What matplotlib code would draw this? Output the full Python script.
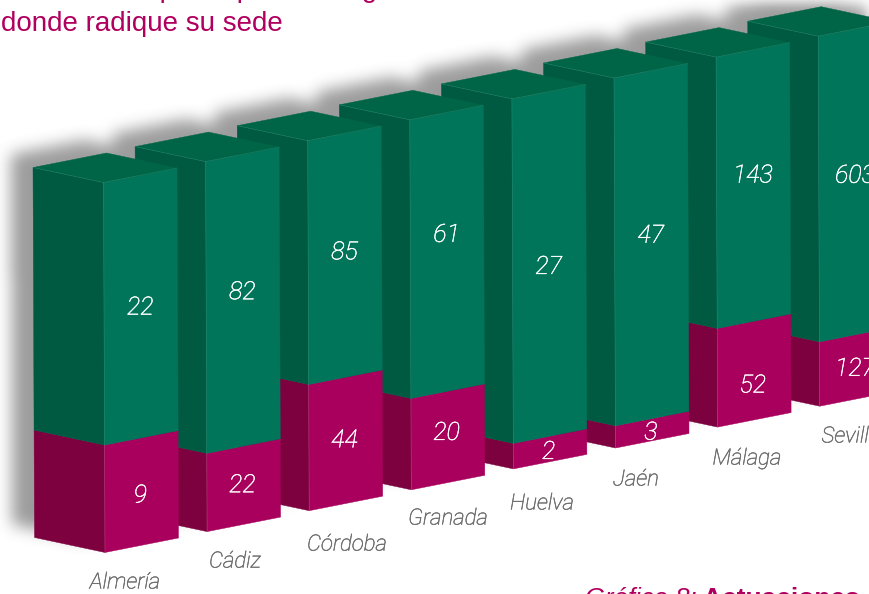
import numpy as np
import matplotlib
matplotlib.use('Agg')
import matplotlib.pyplot as plt
import matplotlib.patheffects as pe
from matplotlib.path import Path

# Provinces and counts
provinces = ['Almería', 'Cádiz', 'Córdoba', 'Granada', 'Huelva', 'Jaén', 'Málaga', 'Sevilla']
green_values = [22, 82, 85, 61, 27, 47, 143, 603]
magenta_values = [9, 22, 44, 20, 2, 3, 52, 127]

# Hand placement of the labels (pixels)
green_nudge = [1, -8, -3, -17, 3, -9, -10, -6]
magenta_nudge = [4, 0, 0, -4, 3, 3, 15, 2]
name_x = [125, 235, 347, 448, 542, 636, 747, 851]
name_y = [583, 562, 545, 519, 504, 480, 459, 437]

GREEN = '#00755a'
GREEN_SIDE = '#005a42'
GREEN_TOP = '#006546'
MAGENTA = '#a8005c'
MAGENTA_SIDE = '#7d003f'
TITLE_COLOR = '#b0005f'
NAME_COLOR = '#6e6e6e'

BAR_H = 370


def project(i, a, b, h):
    # a = depth to the left, b = depth to the right, h = share of the total height
    x = 105 + i * 102.1 - a * 70.5 + b * 73.5 - h * 1.5
    y = 552.5 - i * 20.9 - a * 15 - b * 14.5 - h * BAR_H
    return x, y


def face(ax, i, corners, color):
    pts = [project(i, *c) for c in corners]
    ax.fill([p[0] for p in pts], [p[1] for p in pts], color=color, lw=0.3, ec=color)


def blur(img, size, passes=3):
    kernel = np.ones(size) / size
    for _ in range(passes):
        img = np.apply_along_axis(lambda r: np.convolve(r, kernel, mode='same'), 0, img)
        img = np.apply_along_axis(lambda r: np.convolve(r, kernel, mode='same'), 1, img)
    return img


def light_text(ax, x, y, s, color, size):
    # Roboto Light is a bit thin here, so thicken it slightly
    t = ax.text(x, y, s, color=color, fontsize=size, ha='center', va='center',
                family=['Roboto', 'Liberation Sans'], style='italic', weight='light')
    t.set_path_effects([pe.withStroke(linewidth=0.35, foreground=color)])


fig = plt.figure(figsize=(8.7, 5.94), dpi=100)
ax = fig.add_axes([0, 0, 1, 1])

# Soft shadow behind the bars
xx, yy = np.meshgrid(np.arange(870) + 0.5, np.arange(594) + 0.5)
grid = np.column_stack([xx.ravel(), yy.ravel()])
mask = np.zeros(xx.shape)
for i in range(len(provinces)):
    outline = [project(i, *c) for c in [(1, 0, 0), (1, 0, 1), (1, 1, 1), (0, 1, 1), (0, 1, 0), (0, 0, 0)]]
    outline = [(x - 22, y - 13) for x, y in outline]
    mask = np.maximum(mask, Path(outline).contains_points(grid).reshape(xx.shape))
shadow = np.zeros(xx.shape + (4,))
shadow[..., :3] = 0.3
shadow[..., 3] = blur(mask, 15) * 0.55
ax.imshow(shadow, extent=(0, 870, 594, 0), aspect='auto', zorder=0)

# Right to left, each bar covers the side of the next one
for i in reversed(range(len(provinces))):
    share = magenta_values[i] / (magenta_values[i] + green_values[i])
    face(ax, i, [(0, 0, 0), (1, 0, 0), (1, 0, share), (0, 0, share)], MAGENTA_SIDE)
    face(ax, i, [(0, 0, 0), (0, 1, 0), (0, 1, share), (0, 0, share)], MAGENTA)
    face(ax, i, [(0, 0, share), (1, 0, share), (1, 0, 1), (0, 0, 1)], GREEN_SIDE)
    face(ax, i, [(0, 0, share), (0, 1, share), (0, 1, 1), (0, 0, 1)], GREEN)
    face(ax, i, [(0, 0, 1), (1, 0, 1), (1, 1, 1), (0, 1, 1)], GREEN_TOP)

    # thin light edges where the faces meet
    for c0, c1, col in [((0, 0, 0), (0, 0, share), '#d080a8'),
                        ((0, 0, share), (0, 0, 1), '#40a088'),
                        ((1, 0, 1), (0, 0, 1), '#40a088'),
                        ((0, 0, 1), (0, 1, 1), '#40a088')]:
        p0, p1 = project(i, *c0), project(i, *c1)
        ax.plot([p0[0], p1[0]], [p0[1], p1[1]], color=col, lw=0.4, alpha=0.45)

for i in range(len(provinces)):
    share = magenta_values[i] / (magenta_values[i] + green_values[i])
    x_mid = project(i, 0, 0.5, 0)[0] - 1.5
    y_low = project(i, 0, 0.5, 0)[1]
    y_mid = project(i, 0, 0.5, share)[1]
    y_top = project(i, 0, 0.5, 1)[1]
    light_text(ax, x_mid, (y_mid + y_top) / 2 + green_nudge[i], str(green_values[i]), 'white', 18)
    light_text(ax, x_mid, (y_low + y_mid) / 2 + magenta_nudge[i], str(magenta_values[i]), 'white', 18)
    light_text(ax, name_x[i], name_y[i], provinces[i], NAME_COLOR, 16)

# Title, cut by the top of the page
ax.text(1, -3, 'Actuaciones por la pública según', color=TITLE_COLOR, fontsize=20,
        family='Liberation Sans', ha='left', va='baseline')
ax.text(1, 31, 'donde radique su sede', color=TITLE_COLOR, fontsize=20,
        family='Liberation Sans', ha='left', va='baseline')

# Caption, cut by the bottom and right of the page
ax.text(585, 606, 'Gráfico 8:', color=TITLE_COLOR, fontsize=18.5,
        family='Liberation Sans', style='italic', ha='left', va='baseline')
ax.text(703, 606, 'Actuaciones de las sedes', color=TITLE_COLOR, fontsize=19,
        family='Liberation Sans', weight='bold', ha='left', va='baseline')

ax.set_xlim(0, 870)
ax.set_ylim(594, 0)
ax.axis('off')
fig.savefig('out.png', dpi=100)
